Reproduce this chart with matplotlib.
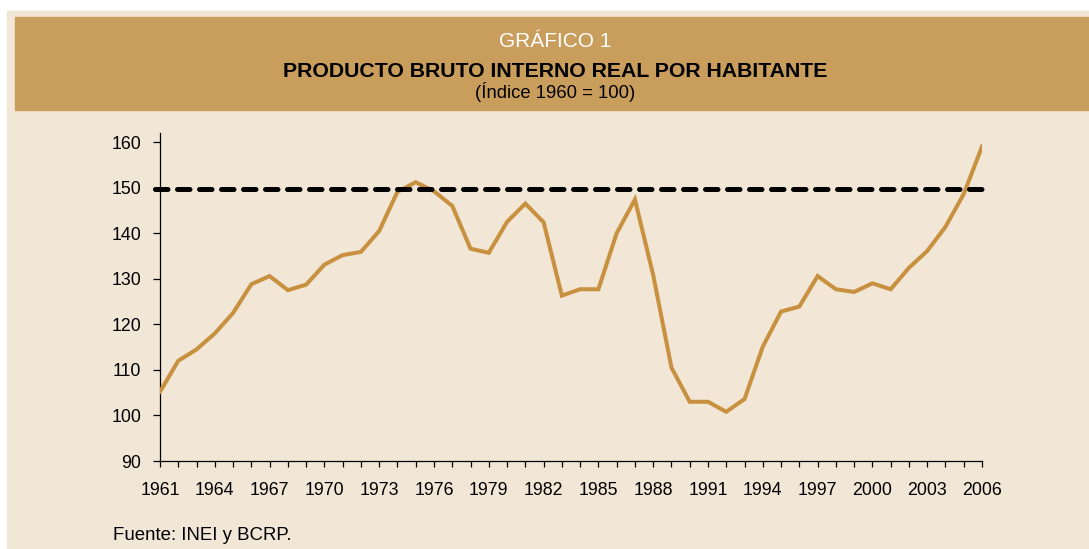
import matplotlib
matplotlib.use("Agg")
import matplotlib.pyplot as plt
from matplotlib.patches import Rectangle

years = list(range(1961, 2007))
pbi_hab = [105.2, 112.0, 114.5, 118.0, 122.5, 128.8, 130.6, 127.5, 128.7, 133.1,
           135.2, 135.9, 140.5, 149.1, 151.2, 149.2, 146.0, 136.6, 135.7, 142.5,
           146.5, 142.4, 126.3, 127.7, 127.7, 140.0, 147.4, 130.8, 110.5, 103.0,
           103.0, 100.8, 103.6, 115.1, 122.8, 123.9, 130.6, 127.7, 127.1, 129.0,
           127.7, 132.4, 136.1, 141.4, 148.6, 159.0]
nivel_1975 = 149.6
xtick_years = list(range(1961, 2007, 3))
yticks = [90, 100, 110, 120, 130, 140, 150, 160]

BEIGE = "#F2E6D6"
TAN = "#C99E5D"
LINE = "#C8913F"

plt.rcParams["font.family"] = ["Liberation Sans", "DejaVu Sans"]

fig = plt.figure(figsize=(10.89, 5.49), dpi=100)
fig.patch.set_facecolor("white")

# panel de fondo y banda del titulo
fig.patches.append(Rectangle((7 / 1089, 1 / 549), 1 - 7 / 1089, 537 / 549,
                             transform=fig.transFigure, color=BEIGE, zorder=-10))
fig.patches.append(Rectangle((15 / 1089, 1 - 110 / 549), 1 - 15 / 1089, 93 / 549,
                             transform=fig.transFigure, color=TAN, zorder=-9))

fig.text(0.5096, 1 - 47.3 / 549, "GRÁFICO 1", color="white", fontsize=15,
         ha="center", va="baseline")
fig.text(0.5096, 1 - 76.7 / 549, "PRODUCTO BRUTO INTERNO REAL POR HABITANTE",
         color="black", fontsize=15.3, fontweight="bold", ha="center", va="baseline")
fig.text(0.5096, 1 - 98 / 549, "(Índice 1960 = 100)", color="black", fontsize=13.3,
         ha="center", va="baseline")
fig.text(113 / 1089, 1 - 540 / 549, "Fuente: INEI y BCRP.", color="black",
         fontsize=13.4, ha="left", va="baseline")

ax = fig.add_axes([160 / 1089, 1 - 461 / 549, (982 - 160) / 1089, (461 - 133) / 549])
ax.set_facecolor("none")

ax.plot(years, pbi_hab, color=LINE, lw=2.9, solid_joinstyle="miter", zorder=3)
ax.plot([1960.7, 2006.45], [nivel_1975, nivel_1975], color="black", lw=3.6,
        dashes=(2.5, 1.9), dash_capstyle="round", clip_on=False, zorder=4)

ax.set_xlim(1961, 2006)
ax.set_ylim(90, 162)
ax.set_xticks(years)
ax.set_xticklabels([str(y) if y in xtick_years else "" for y in years])
ax.set_yticks(yticks)

for s in ["top", "right"]:
    ax.spines[s].set_visible(False)
for s in ["left", "bottom"]:
    ax.spines[s].set_linewidth(0.9)
    ax.spines[s].set_color("black")

ax.tick_params(axis="x", length=4.3, width=0.9, pad=10.5, labelsize=12.8, colors="black")
ax.tick_params(axis="y", length=5, width=0.9, pad=8.5, labelsize=12.8, colors="black")

fig.savefig("out.png", dpi=100, facecolor=fig.get_facecolor())
